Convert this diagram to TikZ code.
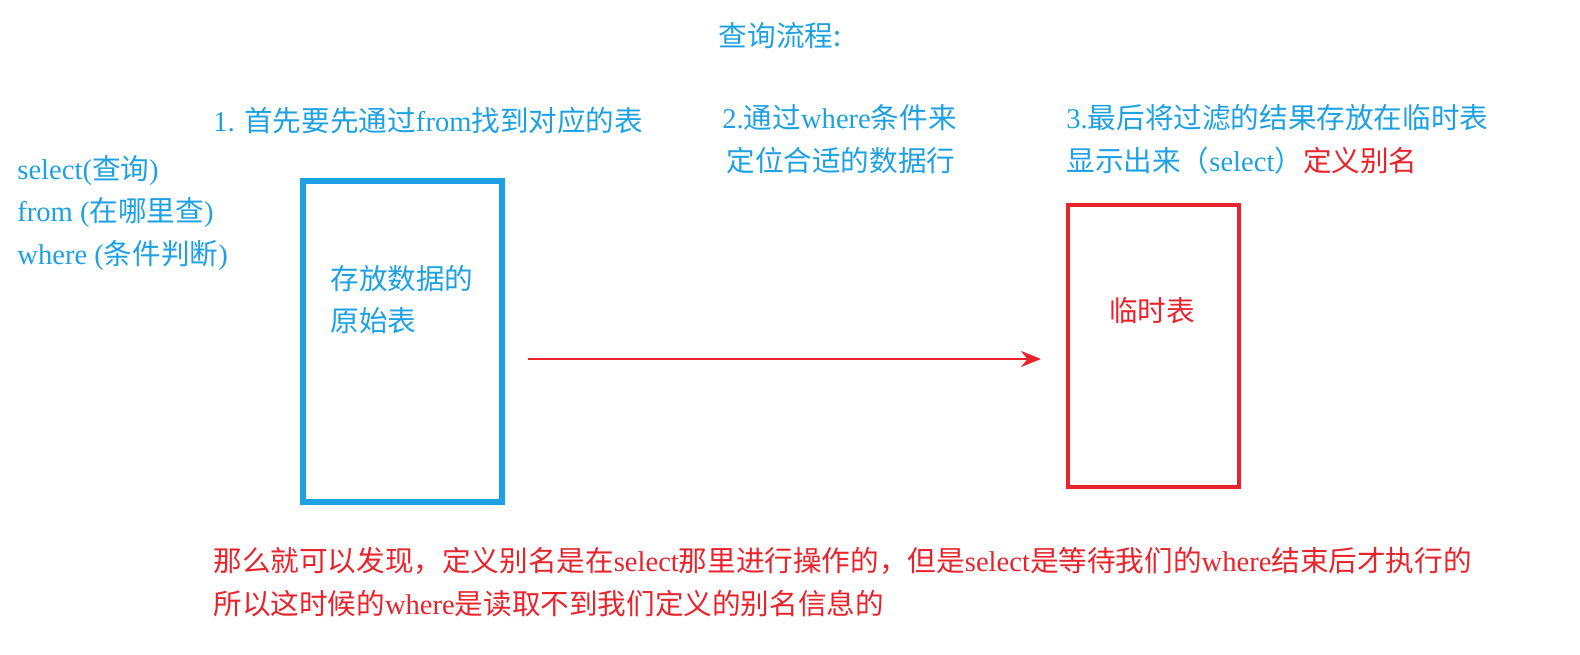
\documentclass[tikz,border=0pt]{standalone}
\usepackage{fontspec}
\setmainfont{Liberation Serif}
\newfontfamily\cjk{Noto Sans CJK SC}
\usetikzlibrary{arrows.meta}
\definecolor{qblue}{HTML}{1DA1E2}
\definecolor{qred}{HTML}{E8232B}
\tikzset{
  txt/.style={anchor=west,inner sep=0pt,font=\fontsize{14.3}{17}\selectfont,text=qblue},
  rtxt/.style={txt,text=qred},
  boxb/.style={draw=qblue,line width=2.6pt},
  boxr/.style={draw=qred,line width=2pt},
  flow/.style={draw=qred,line width=1.4pt,-{Stealth[length=10pt,width=8pt]}}
}
\begin{document}
\begin{tikzpicture}[x=0.5pt,y=-0.5pt]
\useasboundingbox (0,0) rectangle (1580,654);
\node[txt,anchor=center] (title) at (780,36) {\cjk 查询流程:};
\node[txt] (s1) at (213,121) {1. {\cjk 首先要先通过}from{\cjk 找到对应的表}};
\node[txt] (s2a) at (722,118) {2.{\cjk 通过}where{\cjk 条件来}};
\node[txt] (s2b) at (726,161) {\cjk 定位合适的数据行};
\node[txt] (s3a) at (1066,118) {3.{\cjk 最后将过滤的结果存放在临时表}};
\node[txt] (s3b) at (1066,161) {{\cjk 显示出来（}select{\cjk ）}\textcolor{qred}{\cjk 定义别名}};
\node[txt] (k1) at (17,171) {select({\cjk 查询})};
\node[txt] (k2) at (17,213) {from ({\cjk 在哪里查})};
\node[txt] (k3) at (17,255) {where ({\cjk 条件判断})};
\draw[boxb] (303,181) rectangle (502,502);
\node[txt] (orig1) at (330,279) {\cjk 存放数据的};
\node[txt] (orig2) at (330,321) {\cjk 原始表};
\draw[boxr] (1068,205) rectangle (1239,487);
\node[rtxt,anchor=center] (tmp) at (1152,311) {\cjk 临时表};
\coordinate (a0) at (528,359);
\coordinate (a1) at (1041,359);
\draw[flow] (a0) -- (a1);
\node[rtxt] (n1) at (213,561) {{\cjk 那么就可以发现，定义别名是在}select{\cjk 那里进行操作的，但是}select{\cjk 是等待我们的}where{\cjk 结束后才执行的}};
\node[rtxt] (n2) at (213,604) {{\cjk 所以这时候的}where{\cjk 是读取不到我们定义的别名信息的}};
\end{tikzpicture}
\end{document}
